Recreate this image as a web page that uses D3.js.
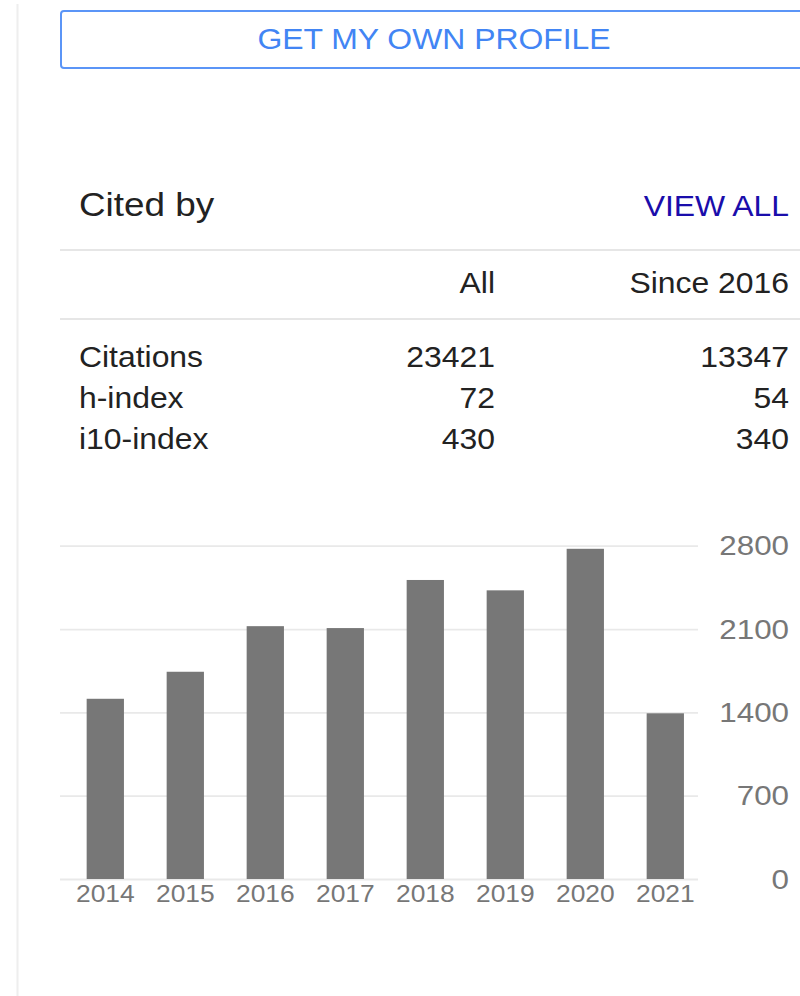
<!DOCTYPE html>
<html>
<head>
<meta charset="utf-8">
<script src="https://cdn.jsdelivr.net/npm/d3@7"></script>
<style>
  body { margin: 0; background: #fff; }
  svg { display: block; font-family: "Liberation Sans", Arial, sans-serif; }
</style>
</head>
<body>
<div id="chart"></div>
<script>
// citations per year
const years = ["2014", "2015", "2016", "2017", "2018", "2019", "2020", "2021"]
const citations = [1514, 1741, 2124, 2108, 2512, 2425, 2774, 1392]
const yTicks = [0, 700, 1400, 2100, 2800]

// summary table
const columns = ["All", "Since 2016"]
const metrics = ["Citations", "h-index", "i10-index"]
const allValues = [23421, 72, 430]
const sinceValues = [13347, 54, 340]

const width = 800, height = 996
const stretch = 1.1          // the picture's text runs a little wider than Arial
const X = v => v / stretch   // page pixels -> viewBox units

const svg = d3.select("#chart")
  .append("svg")
    .attr("width", width)
    .attr("height", height)
    .attr("viewBox", `0 0 ${X(width)} ${height}`)
    .attr("preserveAspectRatio", "none")

// left border of the panel
svg.append("line")
  .attr("x1", X(17.5)).attr("x2", X(17.5))
  .attr("y1", 4).attr("y2", height)
  .attr("stroke", "#eeeeee").attr("stroke-width", 2)
  .attr("vector-effect", "non-scaling-stroke")

// button
svg.append("rect")
  .attr("x", X(61)).attr("y", 11)
  .attr("width", X(808 - 61)).attr("height", 57)
  .attr("rx", X(3)).attr("ry", 3)
  .attr("fill", "none")
  .attr("stroke", "#5b95f7").attr("stroke-width", 2)
  .attr("vector-effect", "non-scaling-stroke")

svg.append("text")
  .text("GET MY OWN PROFILE")
  .attr("x", X(434)).attr("y", 49.5)
  .attr("text-anchor", "middle")
  .attr("font-size", 29)
  .attr("fill", "#4285f4")

// header
svg.append("text").text("Cited by")
  .attr("x", X(79)).attr("y", 216.5)
  .attr("font-size", 33.5).attr("fill", "#222")

svg.append("text").text("VIEW ALL")
  .attr("x", X(789)).attr("y", 216)
  .attr("text-anchor", "end")
  .attr("font-size", 29).attr("fill", "#1a0dab")

svg.selectAll("line.sep")
  .data([250, 319]).enter()
  .append("line")
    .attr("class", "sep")
    .attr("x1", X(60)).attr("x2", X(800))
    .attr("y1", d => d).attr("y2", d => d)
    .attr("stroke", "#e6e6e6").attr("stroke-width", 2)

// table
const colRight = [X(495), X(789)]

svg.selectAll("text.col")
  .data(columns).enter()
  .append("text")
    .attr("class", "col")
    .text(d => d)
    .attr("x", (d, i) => colRight[i]).attr("y", 293)
    .attr("text-anchor", "end")
    .attr("font-size", 29).attr("fill", "#222")

const rows = svg.selectAll("g.row")
  .data(metrics).enter()
  .append("g")
    .attr("class", "row")
    .attr("transform", (d, i) => "translate(0," + (366.5 + i * 41) + ")")
    .attr("font-size", 29)
    .attr("fill", "#222")

rows.append("text").text(d => d).attr("x", X(79))
rows.append("text").text((d, i) => allValues[i]).attr("x", colRight[0]).attr("text-anchor", "end")
rows.append("text").text((d, i) => sinceValues[i]).attr("x", colRight[1]).attr("text-anchor", "end")

// bar chart
const xScale = d3.scaleBand()
  .domain(years)
  .range([X(65.3), X(705.3)])
  .paddingInner(0.534)
  .paddingOuter(0.267)

const yScale = d3.scaleLinear()
  .domain([0, 2800])
  .range([879, 545.7])

// gridlines
const grid = svg.append("g")
  .attr("transform", "translate(" + X(60) + ",0)")
  .call(d3.axisRight(yScale).tickValues(yTicks).tickSize(X(638)).tickFormat(""))
grid.select(".domain").remove()
grid.selectAll("line").attr("stroke", "#e9e9e9").attr("stroke-width", 1.8)

svg.selectAll("rect.bar")
  .data(citations).enter()
  .append("rect")
    .attr("class", "bar")
    .attr("x", (d, i) => xScale(years[i]))
    .attr("y", d => yScale(d))
    .attr("width", xScale.bandwidth())
    .attr("height", d => yScale(0) - yScale(d))
    .attr("fill", "#777")

// y labels on the right
const yAxis = svg.append("g")
  .attr("transform", "translate(" + X(789) + ",0)")
  .call(d3.axisLeft(yScale).tickValues(yTicks).tickFormat(d3.format("d")).tickSize(0).tickPadding(0))
yAxis.attr("font-family", null).attr("font-size", 28.5)
yAxis.select(".domain").remove()
yAxis.selectAll("text").attr("fill", "#777")

// year labels
const xAxis = svg.append("g")
  .attr("transform", "translate(0," + yScale(0) + ")")
  .call(d3.axisBottom(xScale).tickSize(0).tickPadding(5.5))
xAxis.attr("font-family", null).attr("font-size", 24)
xAxis.select(".domain").remove()
xAxis.selectAll("text").attr("fill", "#777")
</script>
</body>
</html>
